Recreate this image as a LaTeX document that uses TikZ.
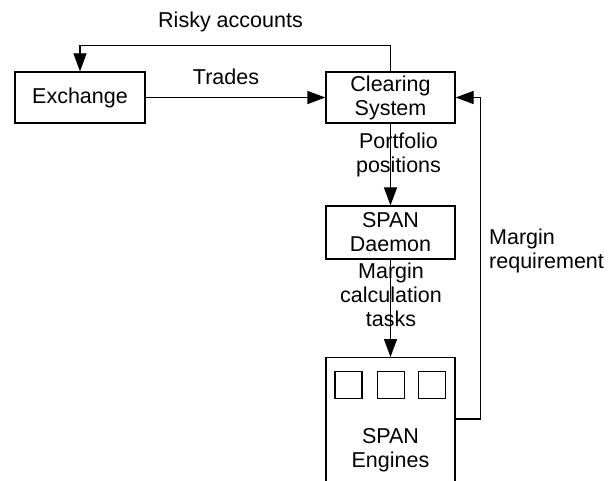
\documentclass[tikz,border=0pt]{standalone}
\usepackage{fontspec}
\setmainfont{Liberation Sans}
\usetikzlibrary{arrows.meta}
\begin{document}
\begin{tikzpicture}[x=1pt,y=-1pt,
  every node/.style={font=\fontsize{21.5}{24}\selectfont, inner sep=0pt, align=center},
  box/.style={draw, line width=1.2pt, inner sep=0pt},
  conn/.style={line width=1.2pt, -{Triangle[length=18pt,width=13pt]}},
  plain/.style={line width=1.2pt}]
\useasboundingbox (0,0) rectangle (616,481);
% boxes
\node[box, minimum width=130pt, minimum height=51pt] (exch) at (80,97.5) {Exchange};
\node[box, minimum width=129pt, minimum height=51pt] (clr) at (390.5,97.5) {Clearing\\System};
\node[box, minimum width=129pt, minimum height=53pt] (dmn) at (390.5,232.5) {SPAN\\Daemon};
\node[box, minimum width=129pt, minimum height=180pt, anchor=north] (eng) at (390.5,357) {};
\node (engtxt) at (390.5,450) {SPAN\\Engines};
\node[box, minimum size=27pt] (s1) at (348.5,385) {};
\node[box, minimum size=27pt] (s2) at (391,385) {};
\node[box, minimum size=27pt] (s3) at (432,385) {};
% connectors
\draw[conn] (clr.north) -- ++(0,-26) -| (exch.north);
\draw[conn] (exch.east) -- (clr.west);
\draw[conn] (clr.south) -- (dmn.north);
\draw[conn] (dmn.south) -- (eng.north);
\draw[conn] ([yshift=-62pt]eng.north east) -- ++(25,0) |- (clr.east);
% labels
\node (lrisky) at (230.5,22) {Risky accounts};
\node (ltrades) at (226,77) {Trades};
\node (lport) at (398.5,155) {Portfolio\\positions};
\node (lcalc) at (391,295) {Margin\\calculation\\tasks};
\node[anchor=west, align=left] (lreq) at (489,251) {Margin\\requirement};
\end{tikzpicture}
\end{document}
